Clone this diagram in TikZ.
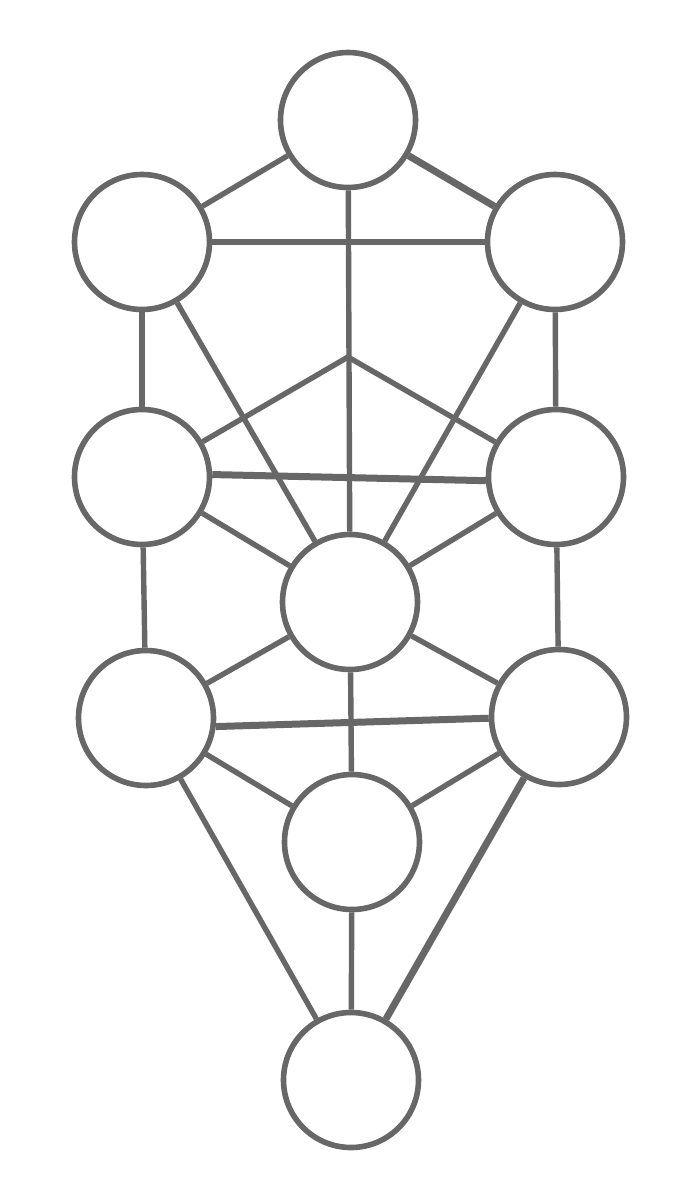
\documentclass[tikz,border=0pt]{standalone}
\usepackage{tikz}

\definecolor{treegray}{RGB}{103,103,103}

\begin{document}
\begin{tikzpicture}[x=0.5pt,y=-0.5pt,
    sphere/.style={circle,draw=treegray,line width=2.8pt,fill=white,minimum size=67.5pt,inner sep=0pt},
    path/.style={draw=treegray,line width=2.7pt},
    widepath/.style={draw=treegray,line width=3.5pt}]

    \fill[white] (0,0) rectangle (700,1200);
    \useasboundingbox (0,0) rectangle (700,1200);

    % spheres
    \node[sphere] (crown)  at (348,120) {};
    \node[sphere] (wisdom) at (142,242) {};
    \node[sphere] (under)  at (555,242) {};
    \node[sphere] (mercy)  at (142,477) {};
    \node[sphere] (sever)  at (556,477) {};
    \node[sphere] (beauty) at (350,602) {};
    \node[sphere] (victory) at (146,718) {};
    \node[sphere] (splend) at (559,717) {};
    \node[sphere] (found)  at (352,842) {};
    \node[sphere] (king)   at (351,1080) {};
    \coordinate (hidden) at (348,357);

    % paths
    \draw[path] (crown) -- (wisdom);
    \draw[widepath] (crown) -- (under);
    \draw[path] (wisdom) -- (under);
    \draw[path] (crown) -- (beauty);
    \draw[path] (wisdom) -- (mercy);
    \draw[path] (under) -- (sever);
    \draw[path] (wisdom) -- (beauty);
    \draw[path] (under) -- (beauty);

    \draw[path] (mercy) -- (hidden);
    \draw[path] (hidden) -- (sever);
    \draw[widepath] (mercy.2) -- (sever.183);
    \draw[path] (mercy) -- (beauty);
    \draw[path] (sever) -- (beauty);

    \draw[path] (mercy) -- (victory);
    \draw[path] (sever) -- (splend);
    \draw[path] (beauty) -- (victory);
    \draw[path] (beauty) -- (splend);
    \draw[widepath] (victory.-7) -- (splend.181);
    \draw[path] (beauty) -- (found);

    \draw[path] (victory) -- (found);
    \draw[path] (splend) -- (found);
    \draw[path] (victory) -- (king);
    \draw[widepath] (splend) -- (king);
    \draw[path] (found) -- (king);

\end{tikzpicture}
\end{document}
